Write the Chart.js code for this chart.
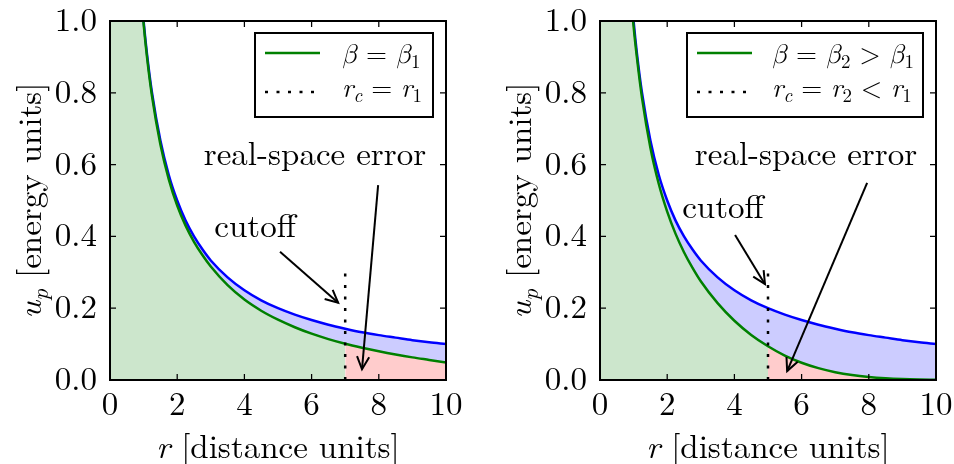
<!DOCTYPE html>
<html><head><meta charset="utf-8">
<script src="https://cdn.jsdelivr.net/npm/chart.js@4.4.0/dist/chart.umd.min.js"></script>
<style>
html,body{margin:0;padding:0;background:#fff;overflow:hidden;width:954px;height:464px;}
canvas{position:absolute;top:0;}
#c1{left:0;} #c2{left:490px;}
</style></head><body>
<canvas id="c1" width="480" height="464"></canvas>
<canvas id="c2" width="464" height="464"></canvas>
<script>
// ---- data ----
const rValues    = [0, 0.5, 0.75, 0.9, 1.0, 1.1, 1.25, 1.5, 1.75, 2.0, 2.25, 2.5, 2.75, 3.0, 3.5, 4.0, 4.5, 5.0, 5.5, 6.0, 6.5, 7.0, 7.5, 8.0, 8.5, 9.0, 9.5, 10.0];
const coulombU   = [4.0, 2.0, 1.333, 1.111, 1.0, 0.909, 0.8, 0.667, 0.571, 0.5, 0.444, 0.4, 0.364, 0.333, 0.286, 0.25, 0.222, 0.2, 0.182, 0.167, 0.154, 0.143, 0.133, 0.125, 0.118, 0.111, 0.105, 0.1];
const screenedU1 = [4.0, 1.996, 1.328, 1.105, 0.993, 0.901, 0.791, 0.656, 0.559, 0.486, 0.430, 0.385, 0.348, 0.316, 0.264, 0.224, 0.193, 0.168, 0.147, 0.129, 0.114, 0.101, 0.090, 0.080, 0.071, 0.063, 0.056, 0.049];
const screenedU2 = [4.0, 1.99, 1.32, 1.095, 0.985, 0.897, 0.786, 0.647, 0.546, 0.469, 0.407, 0.356, 0.313, 0.275, 0.214, 0.165, 0.1255, 0.094, 0.068, 0.048, 0.033, 0.0218, 0.0138, 0.0084, 0.0049, 0.0027, 0.0014, 0.0007];
const cutoffR    = [7, 5];
const cutoffTop  = 0.3;
const xTickValues = [0, 2, 4, 6, 8, 10];
const yTickValues = [0, 0.2, 0.4, 0.6, 0.8, 1.0];
const xTitle = [{t:'r', it:true}, {t:' [distance units]'}];
const yTitle = [{t:'u', it:true}, {t:'p', it:true, sub:true}, {t:' [energy units]'}];
const legendGreen = [
  [{t:'β', it:true, math:true}, {t:' = '}, {t:'β', it:true, math:true}, {t:'1', sub:true}],
  [{t:'β', it:true, math:true}, {t:' = '}, {t:'β', it:true, math:true}, {t:'2', sub:true}, {t:' > ', math:true}, {t:'β', it:true, math:true}, {t:'1', sub:true}]
];
const legendCut = [
  [{t:'r', it:true}, {t:'c', it:true, sub:true}, {t:' = '}, {t:'r', it:true}, {t:'1', sub:true}],
  [{t:'r', it:true}, {t:'c', it:true, sub:true}, {t:' = '}, {t:'r', it:true}, {t:'2', sub:true}, {t:' < ', math:true}, {t:'r', it:true}, {t:'1', sub:true}]
];
const cutoffLabel = 'cutoff';
const errorLabel = 'real-space error';
const cutoffTextAt   = [[4.32, 0.398], [3.66, 0.451]];
const cutoffArrowFrom = [[5.06, 0.357], [4.02, 0.404]];
const cutoffArrowTo   = [[6.79, 0.215], [4.91, 0.267]];
const errorTextAt    = [[6.10, 0.599], [6.13, 0.600]];
const errorArrowFrom = [[7.98, 0.543], [7.95, 0.549]];
const errorArrowTo   = [[7.50, 0.030], [5.57, 0.025]];

const FONT = "'Latin Modern Roman'";
const MATHFONT = "'Latin Modern Math'";

function drawRich(ctx, segs, x, y, size, align) {
  let w = 0;
  const parts = segs.map(s => {
    const sz = s.sub ? Math.round(size * 0.7) : size;
    const f = (s.it ? 'italic ' : '') + sz + 'px ' + (s.math ? MATHFONT : FONT);
    ctx.font = f;
    const m = ctx.measureText(s.t).width;
    w += m;
    return {s, f, m, dy: s.sub ? size * 0.2 : 0};
  });
  let cx = align === 'center' ? x - w / 2 : x;
  ctx.textAlign = 'left';
  ctx.textBaseline = 'alphabetic';
  parts.forEach(p => { ctx.font = p.f; ctx.fillText(p.s.t, cx, y + p.dy); cx += p.m; });
}

function arrow(ctx, x1, y1, x2, y2) {
  ctx.beginPath(); ctx.moveTo(x1, y1); ctx.lineTo(x2, y2); ctx.stroke();
  const a = Math.atan2(y2 - y1, x2 - x1), L = 14, ang = 0.45;
  ctx.beginPath();
  ctx.moveTo(x2 - L * Math.cos(a - ang), y2 - L * Math.sin(a - ang));
  ctx.lineTo(x2, y2);
  ctx.lineTo(x2 - L * Math.cos(a + ang), y2 - L * Math.sin(a + ang));
  ctx.stroke();
}

function makePanel(id, i, rightPad) {
  const green = i === 0 ? screenedU1 : screenedU2;
  const rc = cutoffR[i];
  const greenPts = rValues.map((r, k) => ({x: r, y: green[k]}));
  const bluePts = rValues.map((r, k) => ({x: r, y: coulombU[k]}));
  const base = {pointRadius: 0, cubicInterpolationMode: 'monotone'};

  const decor = {
    id: 'decor' + i,
    afterDatasetsDraw(chart) {
      const ctx = chart.ctx, a = chart.chartArea, xs = chart.scales.x, ys = chart.scales.y;
      const P = (p) => [xs.getPixelForValue(p[0]), ys.getPixelForValue(p[1])];
      ctx.save();
      ctx.fillStyle = '#000'; ctx.strokeStyle = '#000';
      ctx.lineWidth = 2; ctx.lineJoin = 'miter'; ctx.lineCap = 'butt';
      let f = P(cutoffArrowFrom[i]), t = P(cutoffArrowTo[i]);
      arrow(ctx, f[0], f[1], t[0], t[1]);
      f = P(errorArrowFrom[i]); t = P(errorArrowTo[i]);
      arrow(ctx, f[0], f[1], t[0], t[1]);
      let p = P(cutoffTextAt[i]);
      drawRich(ctx, [{t: cutoffLabel}], p[0], p[1], 33, 'center');
      p = P(errorTextAt[i]);
      drawRich(ctx, [{t: errorLabel}], p[0], p[1], 33, 'center');
      ctx.lineWidth = 2;
      ctx.strokeRect(a.left, a.top, a.right - a.left, a.bottom - a.top);
      ctx.lineWidth = 1.25;
      ctx.beginPath();
      xTickValues.forEach(v => {
        const x = xs.getPixelForValue(v);
        ctx.moveTo(x, a.bottom); ctx.lineTo(x, a.bottom - 6);
        ctx.moveTo(x, a.top); ctx.lineTo(x, a.top + 6);
      });
      yTickValues.forEach(v => {
        const y = ys.getPixelForValue(v);
        ctx.moveTo(a.left, y); ctx.lineTo(a.left + 6, y);
        ctx.moveTo(a.right, y); ctx.lineTo(a.right - 6, y);
      });
      ctx.stroke();
      const bw = i === 0 ? 178 : 236, bh = 84;
      const bx = a.right - 13 - bw, by = a.top + 12;
      ctx.fillStyle = '#fff';
      ctx.fillRect(bx, by, bw, bh);
      ctx.lineWidth = 2; ctx.strokeStyle = '#000';
      ctx.strokeRect(bx, by, bw, bh);
      ctx.strokeStyle = '#008000'; ctx.lineWidth = 2.5;
      ctx.beginPath(); ctx.moveTo(bx + 10, by + 20); ctx.lineTo(bx + 65, by + 20); ctx.stroke();
      ctx.strokeStyle = '#000'; ctx.lineWidth = 2.5; ctx.setLineDash([3, 8.5]);
      ctx.beginPath(); ctx.moveTo(bx + 10, by + 59); ctx.lineTo(bx + 60, by + 59); ctx.stroke();
      ctx.setLineDash([]);
      ctx.fillStyle = '#000';
      const tx = bx + (i === 0 ? 87 : 85);
      drawRich(ctx, legendGreen[i], tx, by + 30, 27, 'left');
      drawRich(ctx, legendCut[i], tx, by + 64, 27, 'left');
      drawRich(ctx, xTitle, (a.left + a.right) / 2, a.bottom + 78, 33, 'center');
      ctx.save();
      ctx.translate(a.left - 69, (a.top + a.bottom) / 2);
      ctx.rotate(-Math.PI / 2);
      drawRich(ctx, yTitle, 0, 0, 33, 'center');
      ctx.restore();
      ctx.restore();
    }
  };

  return new Chart(document.getElementById(id), {
    type: 'line',
    data: {
      datasets: [
        Object.assign({label: 'green', data: greenPts, borderColor: '#008000', borderWidth: 2.5, fill: false, order: 1}, base),
        Object.assign({label: 'coulomb', data: bluePts, borderColor: '#0000ff', borderWidth: 2.5, fill: {target: 0}, backgroundColor: 'rgba(0,0,255,0.2)', order: 2}, base),
        Object.assign({label: 'greenFill', data: greenPts.filter(q => q.x <= rc), borderColor: 'rgba(0,0,0,0)', borderWidth: 0, fill: 'origin', backgroundColor: 'rgba(0,128,0,0.2)', order: 3}, base),
        Object.assign({label: 'redFill', data: greenPts.filter(q => q.x >= rc), borderColor: 'rgba(0,0,0,0)', borderWidth: 0, fill: 'origin', backgroundColor: 'rgba(255,0,0,0.2)', order: 4}, base),
        {label: 'cutoff', data: [{x: rc, y: 0}, {x: rc, y: cutoffTop}], borderColor: '#000', borderWidth: 2.5, borderDash: [3, 8.5], pointRadius: 0, fill: false, tension: 0, order: 0}
      ]
    },
    options: {
      responsive: false, animation: false, devicePixelRatio: 1, events: [],
      layout: {padding: {top: 21, right: rightPad, left: 0, bottom: 0}},
      plugins: {legend: {display: false}, tooltip: {enabled: false}, filler: {drawTime: 'beforeDatasetsDraw'}},
      scales: {
        x: {
          type: 'linear', min: 0, max: 10,
          afterBuildTicks: s => { s.ticks = xTickValues.map(v => ({value: v})); },
          ticks: {font: {family: FONT, size: 33}, color: '#000', padding: 5, maxRotation: 0, autoSkip: false},
          grid: {display: false, drawTicks: false}, border: {display: false},
          afterFit: s => { s.height = 84; s.paddingLeft = 0; s.paddingRight = 0; }
        },
        y: {
          type: 'linear', min: 0, max: 1,
          afterBuildTicks: s => { s.ticks = yTickValues.map(v => ({value: v})); },
          ticks: {font: {family: FONT, size: 33}, color: '#000', padding: 13, callback: v => v.toFixed(1), autoSkip: false},
          grid: {display: false, drawTicks: false}, border: {display: false},
          afterFit: s => { s.width = 110; s.paddingTop = 0; s.paddingBottom = 0; }
        }
      }
    },
    plugins: [decor]
  });
}

const charts = [makePanel('c1', 0, 34), makePanel('c2', 1, 18)];
if (document.fonts && document.fonts.ready) {
  document.fonts.ready.then(() => charts.forEach(c => c.update()));
}
</script>
</body></html>
